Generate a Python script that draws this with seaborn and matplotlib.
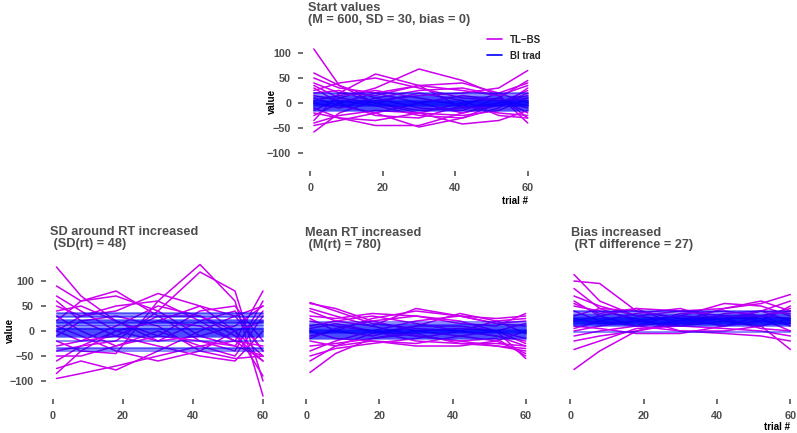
import numpy as np
import pandas as pd
import matplotlib
matplotlib.use("Agg")
import matplotlib.pyplot as plt
from matplotlib.lines import Line2D
import seaborn as sns

trials = [1, 8, 18, 30, 42, 52, 60]

# ---- Start values (top) ----
start_tlbs = [
    [108, 35, 0, -15, -10, 0, 10],
    [35, 10, 30, 68, 45, 15, -40],
    [-35, 20, 58, 35, -10, -5, 5],
    [-20, -30, -45, -45, -20, 0, 15],
    [10, -5, -20, -48, -30, 0, 25],
    [-58, -20, 5, 15, 20, 30, 65],
    [60, 35, 10, -10, -15, 10, 45],
    [-40, -25, -15, -20, -42, -35, -15],
    [25, 40, 50, 30, 10, 5, -10],
    [15, 5, -5, -25, -30, -10, 30],
    [-10, -30, -35, -20, 0, 10, -20],
    [40, 20, 15, 35, 40, 20, 0],
    [50, 30, 20, 0, -20, -5, 20],
    [-25, 0, 20, 35, 25, 15, 35],
    [5, 15, 25, 10, -5, -20, -25],
    [-45, -35, -20, 0, 15, 5, -5],
    [30, 0, -25, -30, -5, 20, 40],
    [0, -10, 10, 25, 30, 15, -30],
    [20, 25, 0, -20, -25, -15, 10],
    [-15, 10, 0, 20, 5, -25, -30],
]
start_bi = [-16, -13, -11, -9, -8, -6, -5, -4, -3, -2, -1, 0, 1, 2, 3, 4, 5, 6, 8,
            10, 12, 15, 18, 21]

# ---- SD increased ----
sd_tlbs = [
    [128, 70, 20, -10, -20, -30, -50],
    [-95, -85, -70, -50, -30, -20, -60],
    [-20, -40, -45, 60, 133, 60, -130],
    [-40, -30, -20, 40, 118, 80, -100],
    [-85, -40, 0, 20, 10, -20, 80],
    [90, 60, 80, 30, -20, -40, 60],
    [50, 30, 40, 75, 50, 0, -50],
    [-75, -60, -78, -40, 0, 30, 50],
    [20, 60, 70, 40, -10, -30, 40],
    [30, 0, -30, -10, 40, 50, -20],
    [-30, -20, 10, 50, 30, -10, -60],
    [60, 20, -10, -30, -50, -60, 0],
    [0, 30, 50, 60, 20, -20, -30],
    [-50, -50, -30, 0, -30, -50, 30],
    [10, -10, -40, -60, -40, 0, 20],
    [70, 40, 0, -20, 20, 40, -40],
    [-10, 20, 30, 10, -40, -55, -50],
    [40, 50, 20, -20, -10, 10, 50],
    [-60, -30, 0, 20, 50, 30, -40],
    [0, -20, -10, 30, 30, 0, -90],
]
sd_bi = [-40, -36, -33, -20, -12, -10, -8, -6, -3, -1, 0, 2, 4, 5, 7, 10, 13, 16,
         17, 18, 20, 23, 28, 30, 35, 37]

# ---- Mean increased ----
mean_tlbs = [
    [57, 40, 15, 5, 0, -10, -30],
    [55, 45, 20, 0, -10, -20, -45],
    [-83, -45, -15, 0, 5, 0, -15],
    [-60, -30, -5, 10, 10, 0, -55],
    [40, 20, 10, 45, 30, 15, 10],
    [-10, 0, 25, 40, 30, 15, 20],
    [30, 25, 35, 30, 15, 10, 35],
    [-30, -25, -15, -5, -25, -30, -40],
    [0, -15, -20, -30, -30, -20, 0],
    [20, 10, 0, 20, 30, 25, 30],
    [-40, -20, 0, -10, -20, -15, -50],
    [10, 20, 30, 15, 0, -10, -20],
    [-20, -30, -20, -25, -10, 0, 15],
    [45, 30, 10, -10, -20, -30, -35],
    [-50, -35, -25, -15, 0, 20, 25],
    [25, 0, -10, 10, 35, 20, -5],
    [5, 15, 0, -20, -25, -25, -30],
    [-15, 5, 20, 30, 20, 0, -25],
]
mean_bi = [-16, -13, -11, -9, -7, -6, -4, -3, -2, -1, 0, 1, 2, 3, 4, 6, 8, 10,
           12, 15, 18]

# ---- Bias increased ----
bias_tlbs = [
    [113, 60, 30, 20, 25, 30, 40],
    [100, 95, 40, 25, 30, 30, 25],
    [-77, -40, 0, 20, 30, 25, 0],
    [-37, -20, 5, 10, 20, 40, 60],
    [70, 50, 30, 40, 45, 55, 73],
    [60, 30, 10, 0, 0, 10, -37],
    [20, 30, 45, 40, 30, 20, 15],
    [50, 40, 25, 0, -5, -10, -20],
    [0, 10, 20, 30, 55, 50, 30],
    [40, 20, 10, 20, 45, 60, 40],
    [-10, 0, 10, 35, 40, 30, 10],
    [30, 45, 40, 25, 10, 20, 50],
    [10, 5, -5, -5, 10, 30, 45],
    [85, 45, 20, 10, 5, 0, -10],
    [-20, -10, 0, 15, 25, 40, 35],
    [25, 15, 20, 30, 25, 5, 0],
    [55, 35, 45, 10, 35, 40, 20],
    [5, 20, 35, 45, 20, 10, 25],
]
bias_bi = [-2, 10, 12, 14, 15, 16, 17, 18, 19, 20, 21, 22, 23, 24, 25, 26, 27,
           28, 30, 32, 35, 38, 41]

titles = [
    "Start values\n(M = 600, SD = 30, bias = 0)",
    "SD around RT increased\n (SD(rt) = 48)",
    "Mean RT increased\n (M(rt) = 780)",
    "Bias increased\n (RT difference = 27)",
]

MAGENTA = "#cc00ee"
BLUE = "#0000ff"
GREY = "#4d4d4d"

sns.set_style("white")
plt.rcParams["font.family"] = ["Liberation Sans", "DejaVu Sans"]
plt.rcParams["font.weight"] = "bold"


def to_long(curves, levels):
    rows = []
    for i, c in enumerate(curves):
        for t, v in zip(trials, c):
            rows.append(("TL-BS", i, t, v))
    for i, lv in enumerate(levels):
        for t in (trials[0], trials[-1]):
            rows.append(("BI trad", i, t, lv))
    return pd.DataFrame(rows, columns=["method", "curve", "trial", "value"])


W, H = 797, 433
fig = plt.figure(figsize=(W / 100, H / 100), dpi=100)

# axes boxes in pixels: left, top, right, bottom
boxes = [(303, 35, 535, 171), (46, 263, 270, 399), (299, 263, 533, 399), (563, 263, 797, 399)]
datasets = [(start_tlbs, start_bi), (sd_tlbs, sd_bi), (mean_tlbs, mean_bi), (bias_tlbs, bias_bi)]
title_pos = [(308, 2), (50, 226), (305, 227), (571, 227)]
xmax = [62, 62, 62, 61.8]

axes = []
for k, ((l, t, r, b), (curves, levels)) in enumerate(zip(boxes, datasets)):
    ax = fig.add_axes([l / W, 1 - b / H, (r - l) / W, (b - t) / H])
    df = to_long(curves, levels)
    sns.lineplot(data=df[df.method == "TL-BS"], x="trial", y="value", units="curve",
                 estimator=None, color=MAGENTA, lw=1.1, ax=ax)
    sns.lineplot(data=df[df.method == "BI trad"], x="trial", y="value", units="curve",
                 estimator=None, color=BLUE, lw=1.3, alpha=0.5, ax=ax)
    ax.set_xlim(-2, xmax[k])
    ax.set_ylim(-136, 136)
    ax.set_xticks([0, 20, 40, 60])
    ax.set_yticks([-100, -50, 0, 50, 100])
    ax.set_yticklabels(["\u2212100", "\u221250", "0", "50", "100"])
    for s in ax.spines.values():
        s.set_visible(False)
    ax.tick_params(axis="both", bottom=True, left=True, length=3.5, width=1.2,
                   color="#555555", labelcolor=GREY, labelsize=7.8, pad=5)
    for lab in ax.get_xticklabels() + ax.get_yticklabels():
        lab.set_fontweight("bold")
    ax.set_xlabel("")
    ax.set_ylabel("")
    if k in (2, 3):
        ax.tick_params(axis="y", left=False, labelleft=False)
    fig.text(title_pos[k][0] / W, 1 - title_pos[k][1] / H, titles[k], ha="left", va="top",
             fontsize=9.2, fontweight="bold", color=GREY, linespacing=1.0)
    axes.append(ax)

# axis labels
fig.text(272 / W, 1 - 101 / H, "value", rotation=90, ha="center", va="center",
         fontsize=7, fontweight="bold", color="black")
fig.text(10 / W, 1 - 330 / H, "value", rotation=90, ha="center", va="center",
         fontsize=7, fontweight="bold", color="black")
fig.text(528 / W, 1 - 201 / H, "trial #", ha="right", va="center",
         fontsize=7, fontweight="bold", color="black")
fig.text(790 / W, 1 - 427 / H, "trial #", ha="right", va="center",
         fontsize=7, fontweight="bold", color="black")

handles = [Line2D([], [], color=MAGENTA, lw=1.2), Line2D([], [], color=BLUE, lw=1.2)]
leg = fig.legend(handles, ["TL\u2212BS", "BI trad"], loc="upper left",
                 bbox_to_anchor=(478 / W, 1 - 26 / H), frameon=False,
                 prop={"size": 7, "weight": "bold"}, handlelength=1.6,
                 handletextpad=0.8, labelspacing=0.6)

fig.savefig("out.png", dpi=100, facecolor="white")
